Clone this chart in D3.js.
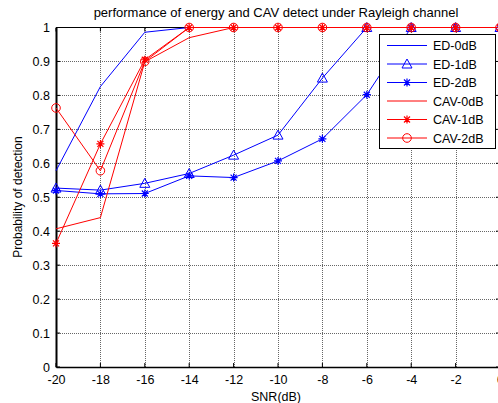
<!DOCTYPE html>
<html>
<head>
<meta charset="utf-8">
<script src="https://cdn.jsdelivr.net/npm/d3@7"></script>
<style>
  body { margin: 0; background: #fff; }
  text { font-family: "Liberation Sans", Arial, sans-serif; fill: #000; }
</style>
</head>
<body>
<div id="chart"></div>
<script>
var width = 498
var height = 403

// data
var snr = [-20, -18, -16, -14, -12, -10, -8, -6, -4, -2, 0]
var ed0 = [0.578, 0.826, 0.986, 1, 1, 1, 1, 1, 1, 1, 1]
var ed1 = [0.527, 0.521, 0.541, 0.570, 0.624, 0.683, 0.851, 1, 1, 1, 1]
var ed2 = [0.520, 0.510, 0.511, 0.563, 0.558, 0.607, 0.672, 0.802, 1, 1, 1]
var cav0 = [0.407, 0.440, 0.899, 0.970, 1, 1, 1, 1, 1, 1, 1]
var cav1 = [0.364, 0.657, 0.905, 1, 1, 1, 1, 1, 1, 1, 1]
var cav2 = [0.763, 0.578, 0.900, 1, 1, 1, 1, 1, 1, 1, 1]
var xTicks = [-20, -18, -16, -14, -12, -10, -8, -6, -4, -2, 0]
var yTicks = [0, 0.1, 0.2, 0.3, 0.4, 0.5, 0.6, 0.7, 0.8, 0.9, 1]

var series = [
  {name: "ED-0dB", values: ed0, color: "#0000ff", marker: "none"},
  {name: "ED-1dB", values: ed1, color: "#0000ff", marker: "triangle"},
  {name: "ED-2dB", values: ed2, color: "#0000ff", marker: "star"},
  {name: "CAV-0dB", values: cav0, color: "#ff0000", marker: "none"},
  {name: "CAV-1dB", values: cav1, color: "#ff0000", marker: "star"},
  {name: "CAV-2dB", values: cav2, color: "#ff0000", marker: "circle"}
]

var x = d3.scaleLinear().domain([-20, 0]).range([56, 500])
var y = d3.scaleLinear().domain([0, 1]).range([367, 27.5])

var svg = d3.select("#chart").append("svg")
    .attr("width", width)
    .attr("height", height)

// grid
svg.append("g").selectAll("line.vg")
    .data(xTicks.slice(1, -1))
    .enter().append("line")
    .attr("x1", function(d) { return Math.round(x(d)) + 0.5 }).attr("x2", function(d) { return Math.round(x(d)) + 0.5 })
    .attr("y1", y(0)).attr("y2", y(1))
    .attr("stroke", "#666").attr("stroke-dasharray", "1,1")
svg.append("g").selectAll("line.hg")
    .data(yTicks.slice(1, -1))
    .enter().append("line")
    .attr("x1", x(-20)).attr("x2", x(0))
    .attr("y1", function(d) { return Math.round(y(d)) + 0.5 }).attr("y2", function(d) { return Math.round(y(d)) + 0.5 })
    .attr("stroke", "#666").attr("stroke-dasharray", "1,1")

// axes (ticks inward like matlab)
var xAxis = d3.axisBottom(x).tickValues(xTicks).tickSize(0).tickPadding(8).tickFormat(function(d) { return String(d) })
var gx = svg.append("g").attr("transform", "translate(0," + y(0) + ")").call(xAxis)
gx.select(".domain").attr("stroke", "#000").attr("stroke-width", 1.5)
gx.selectAll("text").style("font-size", "12.5px").attr("fill", "#000")

var yAxis = d3.axisLeft(y).tickValues(yTicks).tickSize(0).tickPadding(6).tickFormat(function(d) { return String(+d.toFixed(1)) })
var gy = svg.append("g").attr("transform", "translate(" + x(-20) + ",0)").call(yAxis)
gy.select(".domain").attr("stroke", "#000").attr("stroke-width", 2)
gy.selectAll("text").style("font-size", "12.5px").attr("fill", "#000")

// top / right box and inner tick marks
svg.append("line").attr("x1", x(-20)).attr("x2", x(0)).attr("y1", y(1)).attr("y2", y(1)).attr("stroke", "#000")
svg.append("line").attr("x1", x(0)).attr("x2", x(0)).attr("y1", y(1)).attr("y2", y(0)).attr("stroke", "#000")
xTicks.forEach(function(d) {
  svg.append("line").attr("x1", x(d)).attr("x2", x(d)).attr("y1", y(0)).attr("y2", y(0) - 4).attr("stroke", "#000")
  svg.append("line").attr("x1", x(d)).attr("x2", x(d)).attr("y1", y(1)).attr("y2", y(1) + 4).attr("stroke", "#000")
})
yTicks.forEach(function(d) {
  svg.append("line").attr("x1", x(-20)).attr("x2", x(-20) + 4).attr("y1", y(d)).attr("y2", y(d)).attr("stroke", "#000")
  svg.append("line").attr("x1", x(0)).attr("x2", x(0) - 4).attr("y1", y(d)).attr("y2", y(d)).attr("stroke", "#000")
})

// marker drawing
function drawMarker(g, type, cx, cy, color) {
  if (type == "triangle") {
    g.append("path")
      .attr("d", "M" + cx + "," + (cy - 5) + "L" + (cx + 5) + "," + (cy + 4) + "L" + (cx - 5) + "," + (cy + 4) + "Z")
      .attr("fill", "none").attr("stroke", color)
  } else if (type == "circle") {
    g.append("circle").attr("cx", cx).attr("cy", cy).attr("r", 4.3)
      .attr("fill", "none").attr("stroke", color)
  } else if (type == "star") {
    var r = 4
    g.append("path")
      .attr("d", "M" + (cx - r) + "," + cy + "H" + (cx + r) +
                 "M" + cx + "," + (cy - r) + "V" + (cy + r) +
                 "M" + (cx - r * 0.75) + "," + (cy - r * 0.75) + "L" + (cx + r * 0.75) + "," + (cy + r * 0.75) +
                 "M" + (cx - r * 0.75) + "," + (cy + r * 0.75) + "L" + (cx + r * 0.75) + "," + (cy - r * 0.75))
      .attr("fill", "none").attr("stroke", color).attr("stroke-width", 1.2)
  }
}

var line = d3.line()
    .x(function(d, i) { return x(snr[i]) })
    .y(function(d) { return y(d) })

var plot = svg.append("g")
series.forEach(function(s) {
  plot.append("path")
    .datum(s.values)
    .attr("d", line)
    .attr("fill", "none")
    .attr("stroke", s.color)
    .attr("stroke-width", 1)
  s.values.forEach(function(v, i) {
    drawMarker(plot, s.marker, x(snr[i]), y(v), s.color)
  })
})

// legend
var lg = svg.append("g")
lg.append("rect").attr("x", 379.5).attr("y", 34.5).attr("width", 116).attr("height", 114)
    .attr("fill", "#fff").attr("stroke", "#000")
series.forEach(function(s, i) {
  var ly = 45.5 + i * 18.5
  lg.append("line").attr("x1", 387).attr("x2", 427).attr("y1", ly).attr("y2", ly)
    .attr("stroke", s.color)
  drawMarker(lg, s.marker, 407, ly, s.color)
  lg.append("text").attr("x", 433).attr("y", ly + 4.5)
    .style("font-size", "12.5px").text(s.name)
})

// title and labels
svg.append("text").attr("x", 276).attr("y", 17).attr("text-anchor", "middle")
    .style("font-size", "13px").text("performance of energy and CAV detect under Rayleigh channel")
svg.append("text").attr("x", 276).attr("y", 401).attr("text-anchor", "middle")
    .style("font-size", "12.5px").text("SNR(dB)")
svg.append("text").attr("transform", "translate(22,197) rotate(-90)").attr("text-anchor", "middle")
    .style("font-size", "12px").text("Probability of detection")
</script>
</body>
</html>
